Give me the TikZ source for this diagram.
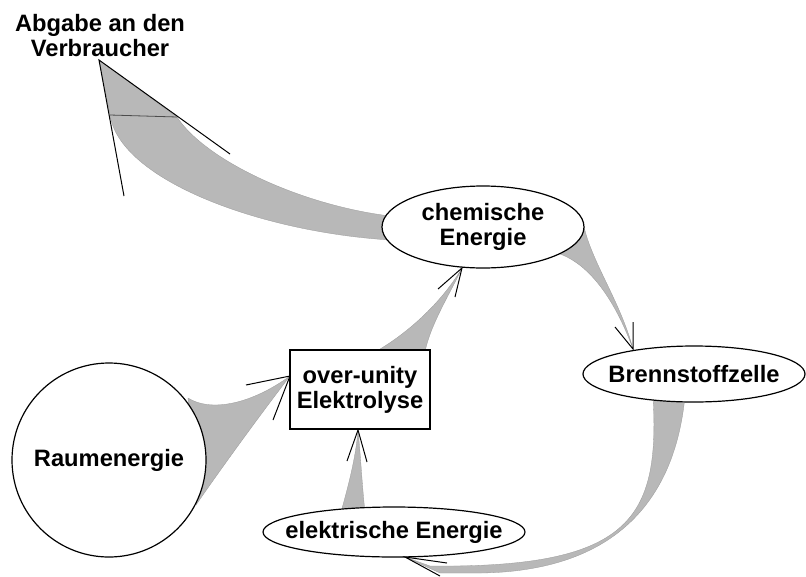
\documentclass[tikz,border=0pt]{standalone}
\usepackage{fontspec}
\setmainfont{Liberation Sans}
\usetikzlibrary{shapes.geometric,backgrounds}
\tikzset{
  lbl/.style={font=\fontsize{23.7}{25}\selectfont\bfseries, align=center, inner sep=0pt},
  oval/.style={lbl, ellipse, draw, fill=white, line width=1.2pt},
  band/.style={fill=black!28, draw=black!40, line width=0.3pt},
  headline/.style={draw=black, line width=1pt},
}
\newcommand{\zw}[1]{\makebox[0pt]{#1}}
\begin{document}
\begin{tikzpicture}[x=1pt,y=-1pt]
\useasboundingbox (0,0) rectangle (806,576);
% nodes
\node[lbl, anchor=north] (abg) at (100,14) {Abgabe an den\\Verbraucher};
\node[oval, minimum width=202, minimum height=82] (chem) at (483,227) {\zw{chemische}\\\zw{Energie}};
\node[oval, minimum width=222, minimum height=56] (bz) at (694,374) {\zw{Brennstoffzelle}};
\node[oval, minimum width=262, minimum height=50] (elek) at (394,532) {\zw{elektrische Energie}};
\node[lbl, draw, fill=white, line width=1.2pt, minimum width=140, minimum height=79] (box) at (360,389.5) {over-unity\\Elektrolyse};
\node[lbl, circle, draw, fill=white, line width=1.2pt, minimum size=194] (raum) at (109,460) {Raumenergie};
% tips
\coordinate (t1) at (99,60);
\coordinate (t2) at (633,349);
\coordinate (t3) at (405,557);
\coordinate (t4) at (358,430);
\coordinate (t5) at (290,376);
\coordinate (t6) at (462,268);
\begin{pgfonlayer}{background}
% chem -> abg
\path[band] (t1) -- (177,117) .. controls (205,160) and (300,205) .. (390,216)
  -- (390,240) .. controls (260,232) and (120,180) .. (110,115) -- cycle;
% chem -> bz
\path[band] (583,222) .. controls (590,260) and (620,300) .. (t2)
  .. controls (615,300) and (590,265) .. (560,254) -- cycle;
% bz -> elek
\path[band] (685,396) .. controls (675,500) and (615,575) .. (470,573) -- (440,573) -- (t3)
  -- (430,566) .. controls (630,568) and (660,520) .. (653,396) -- cycle;
% elek -> box
\path[band] (341,512) .. controls (350,480) and (356,455) .. (t4)
  .. controls (361,460) and (362,485) .. (365,512) -- cycle;
% raum -> box
\path[band] (188,398) .. controls (210,412) and (250,405) .. (t5)
  .. controls (260,415) and (220,470) .. (196,505) -- cycle;
% box -> chem
\path[band] (375,352) .. controls (405,335) and (440,305) .. (t6)
  .. controls (452,290) and (430,325) .. (425,352) -- cycle;
\end{pgfonlayer}
% arrow heads
\draw[headline] (230,154) -- (t1) -- (124,196);
\draw[black!70, line width=0.8pt] (110,115) -- (177,117);
\draw[headline] (615,327) -- (t2) -- (633,322);
\draw[headline] (447,563) -- (t3) -- (440,576);
\draw[headline] (347,461) -- (t4) -- (367,462);
\draw[headline] (246,385) -- (t5) -- (273,420);
\draw[headline] (438,289) -- (t6) -- (455,297);
\end{tikzpicture}
\end{document}
